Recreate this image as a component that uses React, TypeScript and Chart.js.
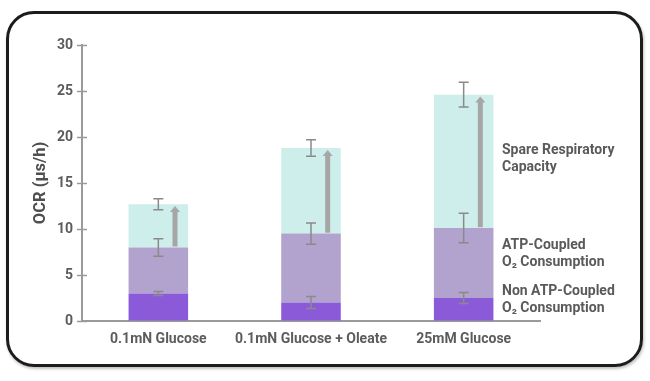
import React, { useEffect, useRef } from "react";
import { Chart, registerables } from "chart.js";

Chart.register(...registerables);

const categories = ["0.1mN Glucose", "0.1mN Glucose + Oleate", "25mM Glucose"];
const nonAtp = [3.0, 2.0, 2.5];
const atpCoupled = [5.0, 7.5, 7.6];
const spare = [4.7, 9.3, 14.5];
const nonAtpErr = [0.22, 0.65, 0.6];
const atpErr = [0.95, 1.15, 1.6];
const spareErr = [0.6, 0.9, 1.35];
const seriesNames = ["Non ATP-Coupled O₂ Consumption", "ATP-Coupled O₂ Consumption", "Spare Respiratory Capacity"];
const yTicks = [0, 5, 10, 15, 20, 25, 30];

const FONT = "Roboto, 'Noto Sans', sans-serif";

const overlayPlugin = {
  id: "overlay",
  afterDatasetsDraw(chart: any) {
    const { ctx, scales } = chart;
    const x = scales.x;
    const y = scales.y;
    ctx.save();
    // tick marks crossing the y axis
    ctx.strokeStyle = "#9a9a9a";
    ctx.lineWidth = 1.5;
    yTicks.forEach((t) => {
      const py = Math.round(y.getPixelForValue(t)) + 0.5;
      ctx.beginPath();
      ctx.moveTo(x.left - 5, py);
      ctx.lineTo(x.left + 5, py);
      ctx.stroke();
    });
    const meta = chart.getDatasetMeta(0);
    categories.forEach((_, i) => {
      const cx = x.getPixelForValue(i);
      const bw = meta.data[i] ? meta.data[i].width : 60;
      const t1 = nonAtp[i];
      const t2 = t1 + atpCoupled[i];
      const t3 = t2 + spare[i];
      // arrow
      const ax = cx + bw * 0.28;
      const yStart = y.getPixelForValue(t2 + 0.1);
      const yEnd = y.getPixelForValue(t3 - 0.2);
      ctx.fillStyle = "#a6a6a6";
      ctx.fillRect(ax - 2.5, yEnd + 5, 5, yStart - yEnd - 5);
      ctx.beginPath();
      ctx.moveTo(ax - 5, yEnd + 6);
      ctx.lineTo(ax + 5, yEnd + 6);
      ctx.lineTo(ax, yEnd);
      ctx.closePath();
      ctx.fill();
      // error bars
      ctx.strokeStyle = "#8a8a8a";
      ctx.lineWidth = 1.5;
      const errs: [number, number][] = [
        [t1, nonAtpErr[i]],
        [t2, atpErr[i]],
        [t3, spareErr[i]],
      ];
      errs.forEach(([v, e]) => {
        const top = y.getPixelForValue(v + e);
        const bot = y.getPixelForValue(v - e);
        ctx.beginPath();
        ctx.moveTo(cx, top);
        ctx.lineTo(cx, bot);
        ctx.moveTo(cx - 5, top);
        ctx.lineTo(cx + 5, top);
        ctx.moveTo(cx - 5, bot);
        ctx.lineTo(cx + 5, bot);
        ctx.stroke();
      });
    });
    // right-hand labels
    ctx.fillStyle = "#5a5a5a";
    ctx.font = `bold 14px ${FONT}`;
    ctx.textBaseline = "middle";
    ctx.textAlign = "left";
    const lx = x.right - 38;
    const labels: [string[], number][] = [
      [["Spare Respiratory", "Capacity"], 150],
      [["ATP-Coupled", "O₂ Consumption"], 245],
      [["Non ATP-Coupled", "O₂ Consumption"], 291],
    ];
    labels.forEach(([lines, py]) => {
      lines.forEach((l, k) => ctx.fillText(l, lx, py + k * 17.5));
    });
    ctx.restore();
  },
};

export default function App() {
  const ref = useRef<HTMLCanvasElement | null>(null);
  useEffect(() => {
    document.body.style.margin = "0";
    if (!ref.current) return;
    const chart = new Chart(ref.current, {
      type: "bar",
      data: {
        labels: categories,
        datasets: [
          { label: seriesNames[0], data: nonAtp, backgroundColor: "#8b5ad8" },
          { label: seriesNames[1], data: atpCoupled, backgroundColor: "#b2a2ce" },
          { label: seriesNames[2], data: spare, backgroundColor: "#cdeeea" },
        ],
      },
      options: {
        responsive: false,
        animation: false,
        layout: { padding: { left: 0, top: 45, right: 110, bottom: 0 } },
        plugins: { legend: { display: false }, tooltip: { enabled: false } },
        datasets: { bar: { barPercentage: 0.39, categoryPercentage: 1 } },
        scales: {
          x: {
            stacked: true,
            afterFit: (s: any) => { s.height = 60; },
            grid: { display: true, drawOnChartArea: false, drawTicks: false },
            border: { display: true, color: "#9a9a9a", width: 2 },
            ticks: {
              color: "#5c5c5c",
              padding: 10,
              autoSkip: false,
              maxRotation: 0,
              minRotation: 0,
              font: { family: FONT, size: 14, weight: "bold" },
            },
          },
          y: {
            stacked: true,
            min: 0,
            max: 30,
            afterFit: (s: any) => { s.width = 82; },
            afterBuildTicks: (s: any) => { s.ticks = yTicks.map((v) => ({ value: v })); },
            grid: { display: true, drawOnChartArea: false, drawTicks: false },
            border: { display: true, color: "#9a9a9a", width: 2 },
            ticks: { color: "#5c5c5c", padding: 9, font: { family: FONT, size: 14, weight: "bold" } },
            title: {
              display: true,
              text: "OCR (µs/h)",
              color: "#4f4f4f",
              padding: { top: 31, bottom: 0 },
              font: { family: FONT, size: 16.5, weight: "bold" },
            },
          },
        },
      },
      plugins: [overlayPlugin],
    });
    return () => chart.destroy();
  }, []);
  return (
    <div style={{ position: "relative", width: 650, height: 381, background: "#fff" }}>
      <div
        style={{
          position: "absolute",
          left: 6,
          top: 11,
          width: 637,
          height: 356,
          boxSizing: "border-box",
          border: "3px solid #1c1c1c",
          borderRadius: 28,
          boxShadow: "1px 2px 3px rgba(0,0,0,0.25)",
        }}
      />
      <canvas ref={ref} width={650} height={381} style={{ position: "absolute", left: 0, top: 0 }} />
    </div>
  );
}
